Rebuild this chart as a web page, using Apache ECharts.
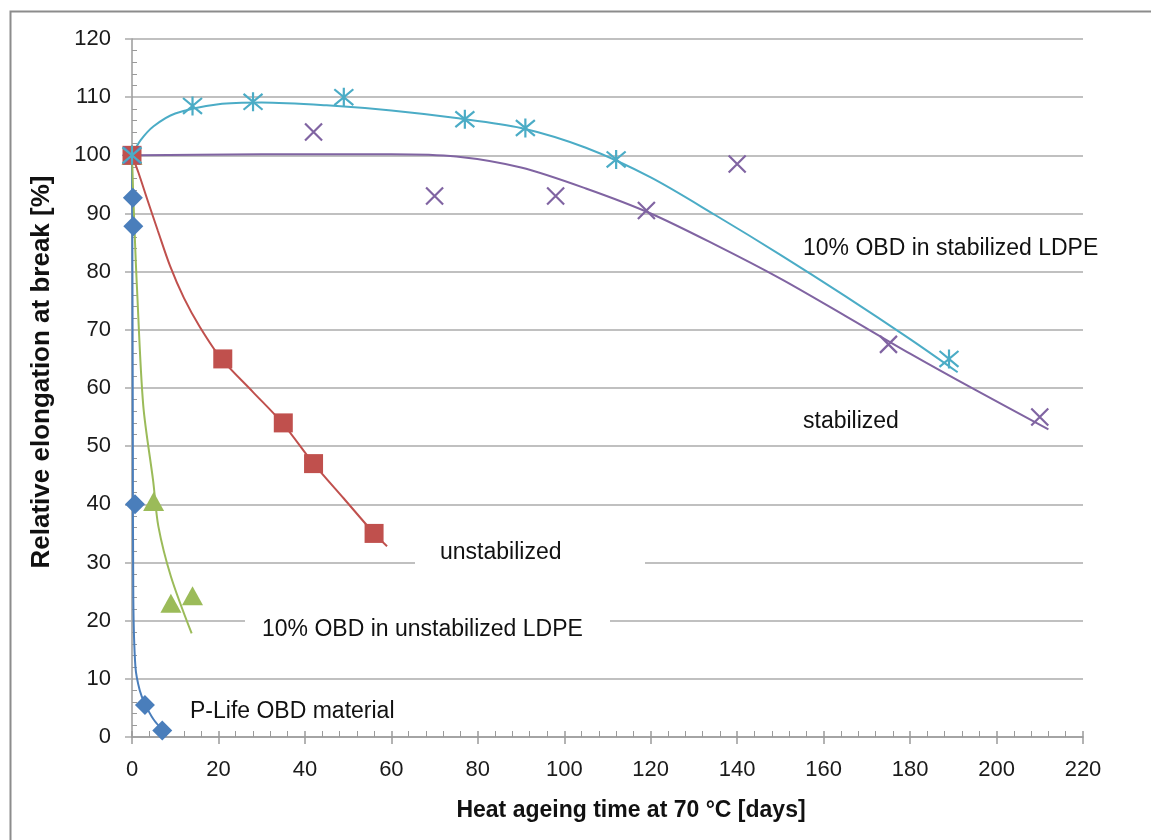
<!DOCTYPE html>
<html>
<head>
<meta charset="utf-8">
<script src="https://cdn.jsdelivr.net/npm/echarts@6/dist/echarts.min.js"></script>
<style>
html,body{margin:0;padding:0;background:#fff;}
#c{width:1151px;height:840px;}
</style>
</head>
<body>
<div id="c"></div>
<script>
// ---- Data ----
const xTicks = [0, 20, 40, 60, 80, 100, 120, 140, 160, 180, 200, 220];
const yTicks = [0, 10, 20, 30, 40, 50, 60, 70, 80, 90, 100, 110, 120];

// P-Life OBD material (blue diamonds)
const pLifeX = [0, 0.2, 0.3, 0.7, 3, 7];
const pLifeY = [100, 92.7, 87.8, 40, 5.5, 1.1];
const pLifeCurveX = [0, 0.1, 0.2, 0.3, 0.8, 1.8, 3, 5, 7.2];
const pLifeCurveY = [100, 80, 50, 24, 12, 8, 5.7, 3, 1.1];

// 10% OBD in unstabilized LDPE (green triangles)
const obdUnstabX = [0, 5, 9, 14];
const obdUnstabY = [100, 40.5, 23, 24.3];
const obdUnstabCurveX = [0, 0.2, 0.7, 1.1, 2.6, 4.9, 6.1, 9.0, 13.8];
const obdUnstabCurveY = [100, 95, 85, 78, 57, 44, 36.2, 27.6, 17.8];

// unstabilized (red squares)
const unstabX = [0, 21, 35, 42, 56];
const unstabY = [100, 65, 54, 47, 35];
const unstabCurveX = [0, 1.5, 3.5, 6, 8.8, 12, 15.7, 20.7, 28, 35, 42, 49, 56, 59];
const unstabCurveY = [100, 97, 92.5, 87, 81, 75.5, 70.5, 65, 59.3, 53.8, 47, 41, 35, 32.8];

// stabilized (purple crosses)
const stabX = [0, 42, 70, 98, 119, 140, 175, 210];
const stabY = [100, 104, 93, 93, 90.5, 98.5, 67.5, 55];
const stabCurveX = [0, 15, 30, 45, 60, 75, 90, 105, 120, 135, 150, 165, 180, 195, 212];
const stabCurveY = [100, 100.1, 100.2, 100.2, 100.2, 99.8, 97.9, 94.3, 90.0, 84.6, 78.8, 72.4, 65.9, 59.7, 52.9];

// 10% OBD in stabilized LDPE (cyan asterisks)
const obdStabX = [0, 14, 28, 49, 77, 91, 112, 189];
const obdStabY = [100, 108.5, 109.2, 110, 106.2, 104.7, 99.3, 65];
const obdStabCurveX = [0, 2, 5, 10, 20, 30, 45, 60, 75, 90, 105, 120, 135, 150, 165, 180, 191];
const obdStabCurveY = [100, 102.6, 105, 107.2, 108.8, 109.1, 108.6, 107.7, 106.4, 104.7, 101.3, 96.2, 89.7, 82.9, 75.8, 68.4, 62.7];

const labelTexts = {
  obdStab: '10% OBD in stabilized LDPE',
  stab: 'stabilized',
  unstab: 'unstabilized',
  obdUnstab: '10% OBD in unstabilized LDPE',
  pLife: 'P-Life OBD material'
};
const xTitle = 'Heat ageing time at 70 °C [days]';
const yTitle = 'Relative elongation at break [%]';

// ---- helpers ----
function pairs(xs, ys) { return xs.map((x, i) => [x, ys[i]]); }

const FONT = '"Liberation Sans", Arial, sans-serif';
const GRID = '#ababab';
const AXIS = '#9a9a9a';
const C = { blue: '#4A7EBB', red: '#C0504D', green: '#9BBB59', purple: '#8064A2', cyan: '#4BACC6' };

const xMin = xTicks[0], xMax = xTicks[xTicks.length - 1], xInt = xTicks[1] - xTicks[0];
const yMin = yTicks[0], yMax = yTicks[yTicks.length - 1], yInt = yTicks[1] - yTicks[0];

function curve(name, xs, ys, color) {
  return { name: name + ' curve', type: 'line', data: pairs(xs, ys), smooth: 0.3,
    symbol: 'none', lineStyle: { color: color, width: 2 }, z: 3, silent: true };
}
function marks(name, xs, ys, extra) {
  return Object.assign({ name: name, type: 'scatter', data: pairs(xs, ys), z: 4, silent: true }, extra);
}

const chart = echarts.init(document.getElementById('c'), null, { renderer: 'canvas' });
const textStyleBase = { font: '23px ' + FONT, fill: '#111' };

chart.setOption({
  animation: false,
  backgroundColor: '#fff',
  grid: { left: 132, right: 68, top: 39, bottom: 103, containLabel: false },
  xAxis: [
    { type: 'value', min: xMin, max: xMax, interval: xInt, position: 'bottom',
      axisLine: { show: true, onZero: false, lineStyle: { color: AXIS, width: 1.5 } },
      axisTick: { show: true, inside: true, length: 6, lineStyle: { color: AXIS, width: 1.5 } },
      minorTick: { show: true, splitNumber: 5, length: 6, lineStyle: { color: AXIS, width: 1 } },
      splitLine: { show: false },
      axisLabel: { margin: 22, fontSize: 22, fontFamily: FONT, color: '#1a1a1a' } },
    { type: 'value', min: xMin, max: xMax, interval: xInt, position: 'bottom',
      axisLine: { show: false, onZero: false },
      axisTick: { show: true, inside: false, length: 7, lineStyle: { color: AXIS, width: 1.5 } },
      splitLine: { show: false }, axisLabel: { show: false } }
  ],
  yAxis: [
    { type: 'value', min: yMin, max: yMax, interval: yInt, position: 'left',
      axisLine: { show: true, onZero: false, lineStyle: { color: AXIS, width: 1.5 } },
      axisTick: { show: true, inside: false, length: 7, lineStyle: { color: GRID, width: 1.5 } },
      splitLine: { show: true, lineStyle: { color: GRID, width: 1.5 } },
      axisLabel: { margin: 21, fontSize: 22, fontFamily: FONT, color: '#1a1a1a' } },
    { type: 'value', min: yMin, max: yMax, interval: yInt, position: 'left',
      axisLine: { show: false, onZero: false },
      axisTick: { show: false, inside: true },
      minorTick: { show: true, splitNumber: 5, length: 5, lineStyle: { color: AXIS, width: 1 } },
      splitLine: { show: false }, axisLabel: { show: false } }
  ],
  series: [
    curve('pLife', pLifeCurveX, pLifeCurveY, C.blue),
    marks('pLife', pLifeX, pLifeY, { symbol: 'diamond', symbolSize: 20, itemStyle: { color: C.blue, opacity: 1 } }),
    curve('obdUnstab', obdUnstabCurveX, obdUnstabCurveY, C.green),
    marks('obdUnstab', obdUnstabX, obdUnstabY, { symbol: 'triangle', symbolSize: [21, 19], itemStyle: { color: C.green, opacity: 1 } }),
    curve('unstab', unstabCurveX, unstabCurveY, C.red),
    marks('unstab', unstabX, unstabY, { symbol: 'rect', symbolSize: 19, itemStyle: { color: C.red, opacity: 1 } }),
    curve('stab', stabCurveX, stabCurveY, C.purple),
    marks('stab', stabX, stabY, { symbol: 'path://M0,0L10,10M10,0L0,10', symbolSize: 17,
      itemStyle: { color: 'rgba(0,0,0,0)', borderColor: C.purple, borderWidth: 2.2, opacity: 1 } }),
    curve('obdStab', obdStabCurveX, obdStabCurveY, C.cyan),
    marks('obdStab', obdStabX, obdStabY, { symbol: 'path://M0,0L10,10M10,0L0,10M5,-1L5,11', symbolSize: 19,
      itemStyle: { color: 'rgba(0,0,0,0)', borderColor: C.cyan, borderWidth: 2.2, opacity: 1 } })
  ],
  graphic: [
    { type: 'rect', left: 8, top: 9, shape: { width: 1300, height: 1000 },
      style: { fill: 'none', stroke: '#8c8c8c', lineWidth: 2 }, z: 0, silent: true },
    { type: 'rect', shape: { x: 415, y: 537, width: 230, height: 34 }, style: { fill: '#fff' }, z: 50, silent: true },
    { type: 'rect', shape: { x: 245, y: 612, width: 365, height: 34 }, style: { fill: '#fff' }, z: 50, silent: true },
    { type: 'text', x: 803, y: 249, style: Object.assign({ text: labelTexts.obdStab, verticalAlign: 'middle' }, textStyleBase), z: 60 },
    { type: 'text', x: 803, y: 422, style: Object.assign({ text: labelTexts.stab, verticalAlign: 'middle' }, textStyleBase), z: 60 },
    { type: 'text', x: 440, y: 553, style: Object.assign({ text: labelTexts.unstab, verticalAlign: 'middle' }, textStyleBase), z: 60 },
    { type: 'text', x: 262, y: 630, style: Object.assign({ text: labelTexts.obdUnstab, verticalAlign: 'middle' }, textStyleBase), z: 60 },
    { type: 'text', x: 190, y: 712, style: Object.assign({ text: labelTexts.pLife, verticalAlign: 'middle' }, textStyleBase), z: 60 },
    { type: 'text', x: 631, y: 811, style: { text: xTitle, font: 'bold 23px ' + FONT, fill: '#111', align: 'center', verticalAlign: 'middle' }, z: 60 },
    { type: 'text', x: 42, y: 372, rotation: Math.PI / 2,
      style: { text: yTitle, font: 'bold 26px ' + FONT, fill: '#111', align: 'center', verticalAlign: 'middle' }, z: 60 }
  ]
});
</script>
</body>
</html>
